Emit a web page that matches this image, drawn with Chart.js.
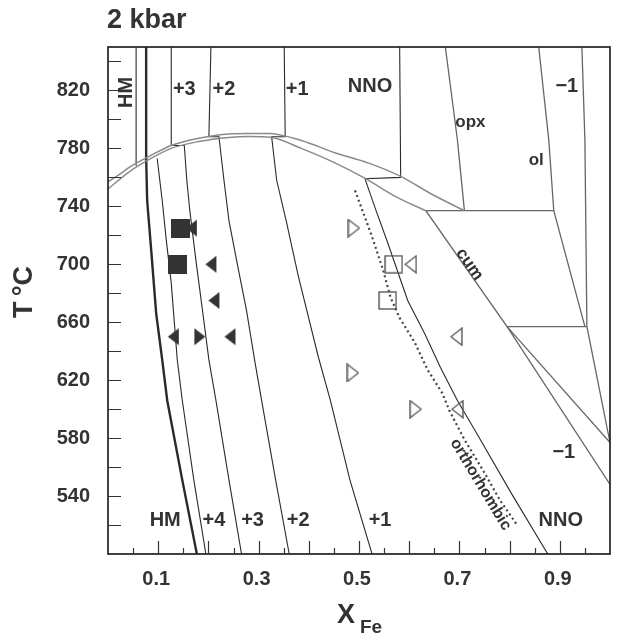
<!DOCTYPE html>
<html><head><meta charset="utf-8">
<script src="https://cdn.jsdelivr.net/npm/chart.js@4.4.1/dist/chart.umd.min.js"></script>
<style>html,body{margin:0;padding:0;background:#fff;} #wrap{width:620px;height:635px;}</style>
</head><body><div id="wrap"><canvas id="c" width="620" height="635"></canvas></div>
<script>
// ---------------- DATA ----------------
const xTickLabels = [0.1, 0.3, 0.5, 0.7, 0.9];
const yTickLabels = [540, 580, 620, 660, 700, 740, 780, 820];
const xTickMarks = [0.05,0.1,0.15,0.2,0.25,0.3,0.35,0.4,0.45,0.5,0.55,0.6,0.65,0.7,0.75,0.8,0.85,0.9,0.95];
const yTickMarks = [520,540,560,580,600,620,640,660,680,700,720,740,760,780,800,820,840];

// boundary lines, points are [X_Fe, T(°C)]
const lineHMtop = [[0.056,850],[0.056,768]];
const lineHM = [[0.076,850],[0.076,774],[0.078,744],[0.086,710],[0.096,666],[0.108,634],[0.118,606],[0.148,551],[0.177,500]];
const linePlus4 = [[0.098,773],[0.108,744],[0.116,717],[0.126,687],[0.138,634],[0.148,606],[0.171,551],[0.195,500]];
const linePlus3 = [[0.126,850],[0.126,782],[0.152,782],[0.157,758],[0.163,737],[0.175,703],[0.183,682],[0.201,634],[0.215,606],[0.241,551],[0.266,500]];
const linePlus2 = [[0.205,850],[0.201,788],[0.221,788],[0.231,758],[0.241,730],[0.260,696],[0.276,668],[0.292,634],[0.306,606],[0.334,551],[0.361,500]];
const linePlus1 = [[0.351,850],[0.353,788],[0.326,788],[0.336,758],[0.355,730],[0.379,692],[0.419,636],[0.443,606],[0.482,551],[0.526,500]];
const lineNNO = [[0.581,850],[0.583,760],[0.512,759],[0.534,737],[0.557,715],[0.577,695],[0.597,675],[0.631,652],[0.662,629],[0.696,606],[0.730,586],[0.805,541],[0.876,500]];
const lineOrtho = [[0.492,751],[0.524,721],[0.548,696],[0.563,677],[0.581,663],[0.611,646],[0.637,627],[0.666,611],[0.680,599],[0.710,579],[0.750,556],[0.781,537],[0.815,520]];
const solvusUpper = [[0.000,757],[0.023,762],[0.043,767],[0.082,774.5],[0.126,782],[0.181,787],[0.241,790],[0.280,790.3],[0.320,790.3],[0.385,785.5],[0.452,777],[0.518,770],[0.581,761],[0.647,748],[0.710,737]];
const solvusLower = [[0.000,752],[0.043,764],[0.082,772.4],[0.126,780],[0.181,784.8],[0.241,787.6],[0.280,788.3],[0.326,787.6],[0.385,780],[0.452,770],[0.512,759.3],[0.577,746],[0.633,737]];
const lineOpx = [[0.672,850],[0.696,786],[0.710,737]];
const lineOl = [[0.858,850],[0.878,786],[0.888,737],[0.950,657]];
const lineMinus1Top = [[0.944,850],[0.950,786],[0.954,657],[1.0,577]];
const lineTie737 = [[0.633,737],[0.888,737]];
const lineTie657 = [[0.795,657],[0.954,657]];
const lineCum = [[0.633,737],[0.795,657]];
const lineCumUpper = [[0.795,657],[1.0,577]];
const lineMinus1Low = [[0.795,657],[1.0,548]];

// experiments [X_Fe, T]
const filledSquares = [[0.144,725],[0.138,700]];
const filledLeft = [[0.166,725],[0.205,700],[0.211,675],[0.130,650],[0.243,650]];
const filledRight = [[0.183,650]];
const openSquares = [[0.569,700],[0.557,675]];
const openLeft = [[0.603,700],[0.694,650],[0.696,600]];
const openRight = [[0.490,725],[0.488,625],[0.613,600]];

// field labels
const labelTexts = ['HM','+3','+2','+1','NNO','\u22121','opx','ol','cum','orthorhombic','HM','+4','+3','+2','+1','NNO','\u22121'];
const labelX = [0.036,0.152,0.231,0.377,0.522,0.914,0.722,0.853,0.720,0.742,0.114,0.211,0.288,0.379,0.542,0.902,0.908];
const labelT = [818.6,821,821,821,823,823,798,772,700,548,523,523,523,523,523,523,570];

// ---------------- STYLE ----------------
const FAM = '"Liberation Sans", Arial, Helvetica, sans-serif';
const labelRot = [-90,0,0,0,0,0,0,0,55,59,0,0,0,0,0,0,0];
const labelSize = [20,20,20,20,20,20,17,17,17,16,20,20,20,20,20,20,20];

function triCanvas(dir, filled) {
  const w = 13, h = 19; const c = document.createElement('canvas'); c.width = w; c.height = h;
  const g = c.getContext('2d');
  g.beginPath();
  if (dir === 'left') { g.moveTo(w - 1, 1); g.lineTo(1, h / 2); g.lineTo(w - 1, h - 1); }
  else { g.moveTo(1, 1); g.lineTo(w - 1, h / 2); g.lineTo(1, h - 1); }
  g.closePath();
  if (filled) { g.fillStyle = '#333'; g.fill(); }
  else { g.strokeStyle = '#5a5a5a'; g.lineWidth = 1.4; g.stroke(); }
  return c;
}
function sqCanvas(filled) {
  const s = 19; const c = document.createElement('canvas'); c.width = s; c.height = s;
  const g = c.getContext('2d');
  if (filled) { g.fillStyle = '#333'; g.fillRect(0, 0, s, s); }
  else { g.strokeStyle = '#5a5a5a'; g.lineWidth = 1.4; g.strokeRect(1, 1, s - 2, s - 2); }
  return c;
}

const pts = a => a.map(([x, y]) => ({x, y}));
function lineDs(a, color, width, extra) {
  return Object.assign({ data: pts(a), showLine: true, pointRadius: 0, borderColor: color, borderWidth: width,
    fill: false, tension: 0, order: 2 }, extra || {});
}
function markDs(a, style) {
  return { data: pts(a), showLine: false, pointStyle: style, pointRadius: 9, order: 0 };
}
const BLK = '#2a2a2a', GRY = '#666', SOL = '#8a8a8a';

const datasets = [
  markDs(filledSquares, sqCanvas(true)),
  markDs(filledLeft, triCanvas('left', true)),
  markDs(filledRight, triCanvas('right', true)),
  markDs(openSquares, sqCanvas(false)),
  markDs(openLeft, triCanvas('left', false)),
  markDs(openRight, triCanvas('right', false)),
  lineDs(solvusUpper, SOL, 1.5, {cubicInterpolationMode: 'monotone'}),
  lineDs(solvusLower, SOL, 1.5, {cubicInterpolationMode: 'monotone'}),
  lineDs(lineHMtop, BLK, 1.1),
  lineDs(lineHM, BLK, 2.4),
  lineDs(linePlus4, BLK, 1.1),
  lineDs(linePlus3, BLK, 1.1),
  lineDs(linePlus2, BLK, 1.1),
  lineDs(linePlus1, BLK, 1.1),
  lineDs(lineNNO, BLK, 1.1),
  lineDs(lineOrtho, '#444', 2.2, {borderDash: [2, 3]}),
  lineDs(lineOpx, GRY, 1.3),
  lineDs(lineOl, GRY, 1.3),
  lineDs(lineMinus1Top, GRY, 1.3),
  lineDs(lineTie737, GRY, 1.3),
  lineDs(lineTie657, GRY, 1.3),
  lineDs(lineCum, GRY, 1.4),
  lineDs(lineCumUpper, GRY, 1.3),
  lineDs(lineMinus1Low, GRY, 1.3)
];

const decor = {
  id: 'decor',
  afterDraw(chart) {
    const {ctx, chartArea: a, scales: {x, y}} = chart;
    ctx.save();
    ctx.strokeStyle = '#222'; ctx.lineWidth = 1.7;
    ctx.strokeRect(a.left, a.top, a.right - a.left, a.bottom - a.top);
    ctx.lineWidth = 1.2; ctx.strokeStyle = '#333';
    ctx.beginPath();
    for (const v of yTickMarks) {
      const py = Math.round(y.getPixelForValue(v)) + 0.5;
      ctx.moveTo(a.left, py); ctx.lineTo(a.left + 13, py);
    }
    for (const v of xTickMarks) {
      const px = Math.round(x.getPixelForValue(v)) + 0.5;
      const major = Math.abs(v * 10 - Math.round(v * 10)) < 1e-6;
      ctx.moveTo(px, a.bottom); ctx.lineTo(px, a.bottom - (major ? 13 : 6));
    }
    ctx.stroke();
    // field labels
    ctx.fillStyle = '#333'; ctx.textAlign = 'center'; ctx.textBaseline = 'middle';
    labelTexts.forEach((t, i) => {
      ctx.save();
      ctx.translate(x.getPixelForValue(labelX[i]), y.getPixelForValue(labelT[i]));
      ctx.rotate(labelRot[i] * Math.PI / 180);
      ctx.font = 'bold ' + labelSize[i] + 'px ' + FAM;
      ctx.fillText(t, 0, 0);
      ctx.restore();
    });
    // title
    ctx.textAlign = 'left'; ctx.textBaseline = 'alphabetic';
    ctx.font = 'bold 27px ' + FAM;
    ctx.fillText('2 kbar', 107, 28);
    // x axis title
    ctx.font = 'bold 27px ' + FAM;
    ctx.fillText('X', 337, 623);
    ctx.font = 'bold 19px ' + FAM;
    ctx.fillText('Fe', 360, 633);
    // y axis title
    ctx.save();
    ctx.translate(25, 292); ctx.rotate(-Math.PI / 2);
    ctx.textAlign = 'center'; ctx.textBaseline = 'middle';
    ctx.font = 'bold 27px ' + FAM;
    ctx.fillText('T\u2009\u00B0C', 0, 0);
    ctx.restore();
    ctx.restore();
  }
};

Chart.defaults.font.family = FAM;
new Chart(document.getElementById('c'), {
  type: 'scatter',
  data: { datasets },
  options: {
    responsive: false, animation: false, devicePixelRatio: 1,
    layout: { padding: { top: 47, right: 6, left: 0, bottom: 0 } },
    plugins: { legend: {display: false}, tooltip: {enabled: false} },
    scales: {
      x: { type: 'linear', min: 0, max: 1, grid: {display: false, drawTicks: false}, border: {display: false},
        afterBuildTicks: s => { s.ticks = xTickLabels.map(v => ({value: v})); },
        afterFit: s => { s.height = 81; },
        ticks: { autoSkip: false, maxRotation: 0, padding: 13, labelOffset: -2, color: '#333',
          font: {size: 20, weight: 'bold'}, callback: v => Number(v).toFixed(1) } },
      y: { type: 'linear', min: 500, max: 850, grid: {display: false, drawTicks: false}, border: {display: false},
        afterBuildTicks: s => { s.ticks = yTickLabels.map(v => ({value: v})); },
        afterFit: s => { s.width = 108; },
        ticks: { autoSkip: false, padding: 18, color: '#333', font: {size: 20, weight: 'bold'},
          callback: v => String(v) } }
    }
  },
  plugins: [decor]
});
</script></body></html>
